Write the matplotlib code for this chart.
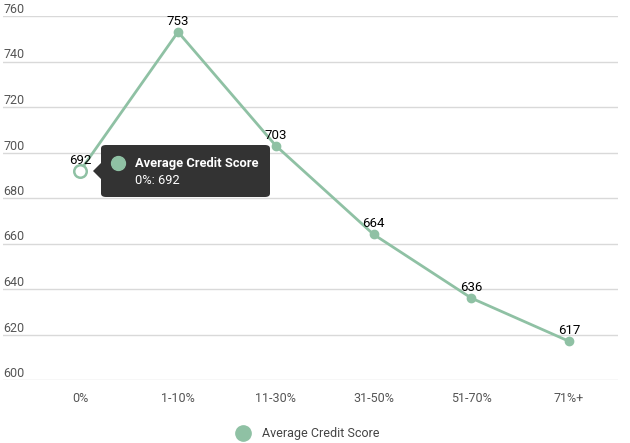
import matplotlib.pyplot as plt
from matplotlib.patches import FancyBboxPatch, Polygon
from matplotlib.transforms import blended_transform_factory

categories = ['0%', '1-10%', '11-30%', '31-50%', '51-70%', '71%+']
scores = [692, 753, 703, 664, 636, 617]
y_ticks = [600, 620, 640, 660, 680, 700, 720, 740, 760]
series_name = 'Average Credit Score'

green = '#8fc1a4'
plt.rcParams['font.family'] = ['Roboto', 'DejaVu Sans']

W, H = 630, 443
fig = plt.figure(figsize=(W / 100, H / 100), dpi=100)
ax = fig.add_axes([3 / W, 1 - 380 / H, 615 / W, 364 / H])

x = list(range(len(categories)))
ax.plot(x, scores, color=green, lw=2, zorder=3)
ax.plot(x[1:], scores[1:], 'o', color=green, ms=6, zorder=4)
# hovered point
ax.plot(x[0], scores[0], 'o', mfc='white', mec=green, mew=1.8, ms=9, zorder=5)

for xi, v in zip(x, scores):
    ax.annotate(str(v), (xi, v), xytext=(0, 3), textcoords='offset points',
                ha='center', va='bottom', fontsize=9.5, color='black', zorder=6)

ax.set_xlim(-0.79, 5.5)
ax.set_ylim(600, 760)
ax.set_yticks(y_ticks)
ax.set_yticklabels([])
ax.tick_params(left=False, bottom=False)
ax.grid(axis='y', color='#d9d9d9', lw=1)
ax.set_axisbelow(True)
for s in ax.spines.values():
    s.set_visible(False)

ax.set_xticks(x)
ax.set_xticklabels(categories, fontsize=9, color='#555555')
ax.tick_params(axis='x', pad=5)

# y labels sit above the gridlines, left-aligned
trans = blended_transform_factory(ax.transAxes, ax.transData)
for t in y_ticks:
    ax.text(0, t, str(t), transform=trans, ha='left', va='bottom',
            fontsize=9, color='#555555')

# tooltip
ftr = fig.transFigure
def fx(px):
    return px / W
def fy(py):
    return 1 - py / H

box = FancyBboxPatch((fx(101), fy(197)), fx(270) - fx(101), fy(145) - fy(197),
                     boxstyle='round,pad=0,rounding_size=0.008',
                     transform=ftr, fc='#333333', ec='none', zorder=10)
fig.patches.append(box)
arrow = Polygon([(fx(101), fy(163)), (fx(93), fy(171)), (fx(101), fy(179))],
                closed=True, transform=ftr, fc='#333333', ec='none', zorder=10)
fig.patches.append(arrow)
fig.add_artist(plt.Line2D([fx(118)], [fy(163)], marker='o', ms=10,
                          color=green, transform=ftr, zorder=11))
fig.text(fx(135), fy(163), series_name, color='white', fontsize=9.3,
         fontweight='bold', va='center', ha='left', zorder=11)
fig.text(fx(135), fy(181), '0%: 692', color='white', fontsize=9.3,
         va='center', ha='left', zorder=11)

# legend
fig.add_artist(plt.Line2D([fx(243)], [fy(433)], marker='o', ms=11,
                          color=green, transform=ftr))
fig.text(fx(262), fy(433), series_name, color='#444444', fontsize=9,
         va='center', ha='left')

fig.savefig('out.png', dpi=100)
